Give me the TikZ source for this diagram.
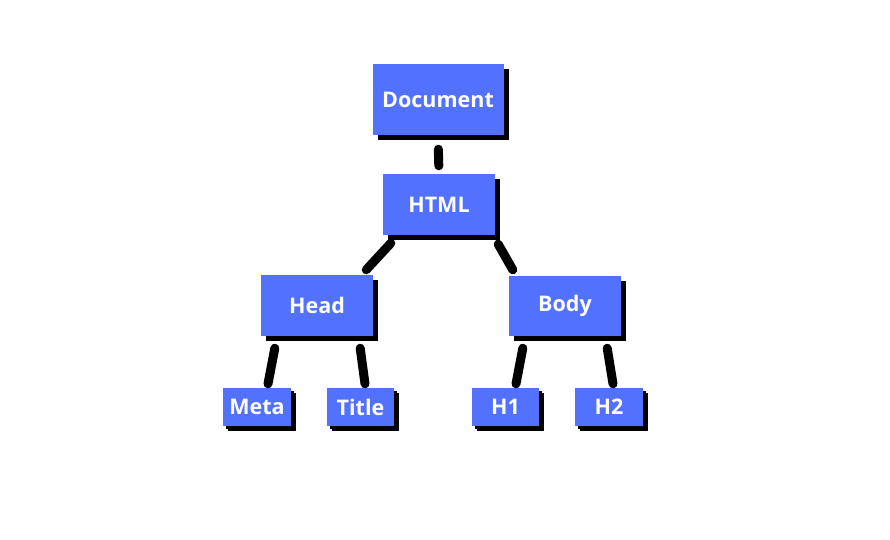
\documentclass[tikz,border=0pt]{standalone}
\usepackage{fontspec}
\setmainfont{Open Sans}
\usetikzlibrary{shadows}
\definecolor{domblue}{RGB}{82,113,255}

\begin{document}
\begin{tikzpicture}[x=1pt,y=-1pt,
  box/.style={fill=domblue,text=white,inner sep=0pt,
    font=\fontsize{21.5}{24}\bfseries\selectfont,
    drop shadow={shadow xshift=5pt,shadow yshift=-5pt,fill=black,opacity=1}},
  leaf/.style={box,
    drop shadow={shadow xshift=3pt,shadow yshift=-3pt,fill=black,opacity=1}},
  link/.style={line width=9pt,line cap=round}]
\useasboundingbox (0,0) rectangle (890,539);

\node[box,minimum width=131pt,minimum height=71pt] (doc) at(438,99.5){Document};
\node[box,minimum width=112pt,minimum height=61pt] (html) at(439,204.5){HTML};
\node[box,minimum width=112pt,minimum height=61pt] (head) at(317,305.5){Head};
\node[box,minimum width=112pt,minimum height=60pt] (body) at(565,306){Body};

\node[leaf,minimum width=68pt,minimum height=38pt] (meta) at(257,407){Meta};
\node[leaf,minimum width=67pt,minimum height=38pt] (title) at(360.5,407){Title};
\node[leaf,minimum width=67pt,minimum height=38pt] (h1) at(505.5,407){H1};
\node[leaf,minimum width=68pt,minimum height=38pt] (h2) at(609,407){H2};

\draw[link,shorten <=14pt,shorten >=8pt] (doc.south) -- (html.north);
\draw[link] ([xshift=8pt,yshift=-8pt]html.south west) -- ([xshift=-7pt,yshift=5pt]head.north east);
\draw[link] ([xshift=3pt,yshift=-9pt]html.south east) -- ([xshift=4pt,yshift=6pt]body.north west);

\draw[link] ([xshift=14pt,yshift=-12pt]head.south west) -- ([xshift=11pt,yshift=4pt]meta.north);
\draw[link] ([xshift=-13pt,yshift=-12pt]head.south east) -- ([xshift=4.5pt,yshift=4pt]title.north);
\draw[link] ([xshift=14pt,yshift=-12pt]body.south west) -- ([xshift=10.5pt,yshift=4pt]h1.north);
\draw[link] ([xshift=-14pt,yshift=-12pt]body.south east) -- ([xshift=4pt,yshift=4pt]h2.north);

\end{tikzpicture}
\end{document}
